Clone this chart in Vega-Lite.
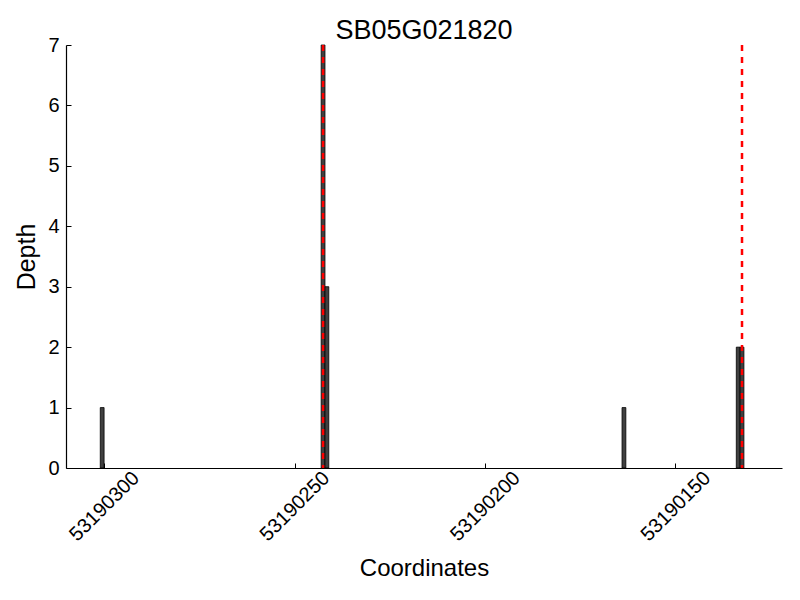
{
  "$schema": "https://vega.github.io/schema/vega-lite/v6.json",
  "width": 716,
  "height": 423,
  "autosize": "none",
  "padding": {"left": 66, "top": 45, "right": 18, "bottom": 132},
  "background": "white",
  "title": {"text": "SB05G021820", "fontSize": 27, "font": "Liberation Sans", "fontWeight": "normal", "color": "black", "offset": -10, "anchor": "middle"},
  "config": {
    "view": {"stroke": null},
    "axis": {"labelFont": "Liberation Sans", "titleFont": "Liberation Sans", "labelColor": "black", "titleColor": "black", "domainColor": "black", "tickColor": "black", "grid": false, "titleFontWeight": "normal", "labelFontSize": 20, "titleFontSize": 24, "tickSize": -5, "domainWidth": 1.2}
  },
  "datasets": {
    "bars": [
      {"start": 53190300, "end": 53190301, "depth": 1},
      {"start": 53190242, "end": 53190243, "depth": 7},
      {"start": 53190241, "end": 53190242, "depth": 3},
      {"start": 53190163, "end": 53190164, "depth": 1},
      {"start": 53190133, "end": 53190134, "depth": 2},
      {"start": 53190132, "end": 53190133, "depth": 2}
    ],
    "lines": [
      {"pos": 53190242.5},
      {"pos": 53190132.5}
    ]
  },
  "layer": [
    {
      "data": {"name": "bars"},
      "mark": {"type": "rect", "color": "#404040", "stroke": "black", "strokeWidth": 0.8},
      "encoding": {
        "x": {"field": "start", "type": "quantitative", "scale": {"domain": [53190310, 53190122], "nice": false, "zero": false},
              "axis": {"title": "Coordinates", "values": [53190300, 53190250, 53190200, 53190150], "format": "d", "labelAngle": -45, "labelAlign": "center", "labelBaseline": "middle", "labelPadding": 43, "titlePadding": 12}},
        "x2": {"field": "end"},
        "y": {"field": "depth", "type": "quantitative", "scale": {"domain": [0, 7], "nice": false},
              "axis": {"title": "Depth", "titleFontSize": 25, "values": [0,1,2,3,4,5,6,7], "format": "d", "labelPadding": 12, "titlePadding": 8, "labelBaseline": "middle"}},
        "y2": {"datum": 0}
      }
    },
    {
      "data": {"name": "lines"},
      "mark": {"type": "rule", "color": "red", "strokeDash": [6, 6], "strokeWidth": 2.5},
      "encoding": {
        "x": {"field": "pos", "type": "quantitative"},
        "y": {"datum": 7},
        "y2": {"datum": 0}
      }
    }
  ]
}
